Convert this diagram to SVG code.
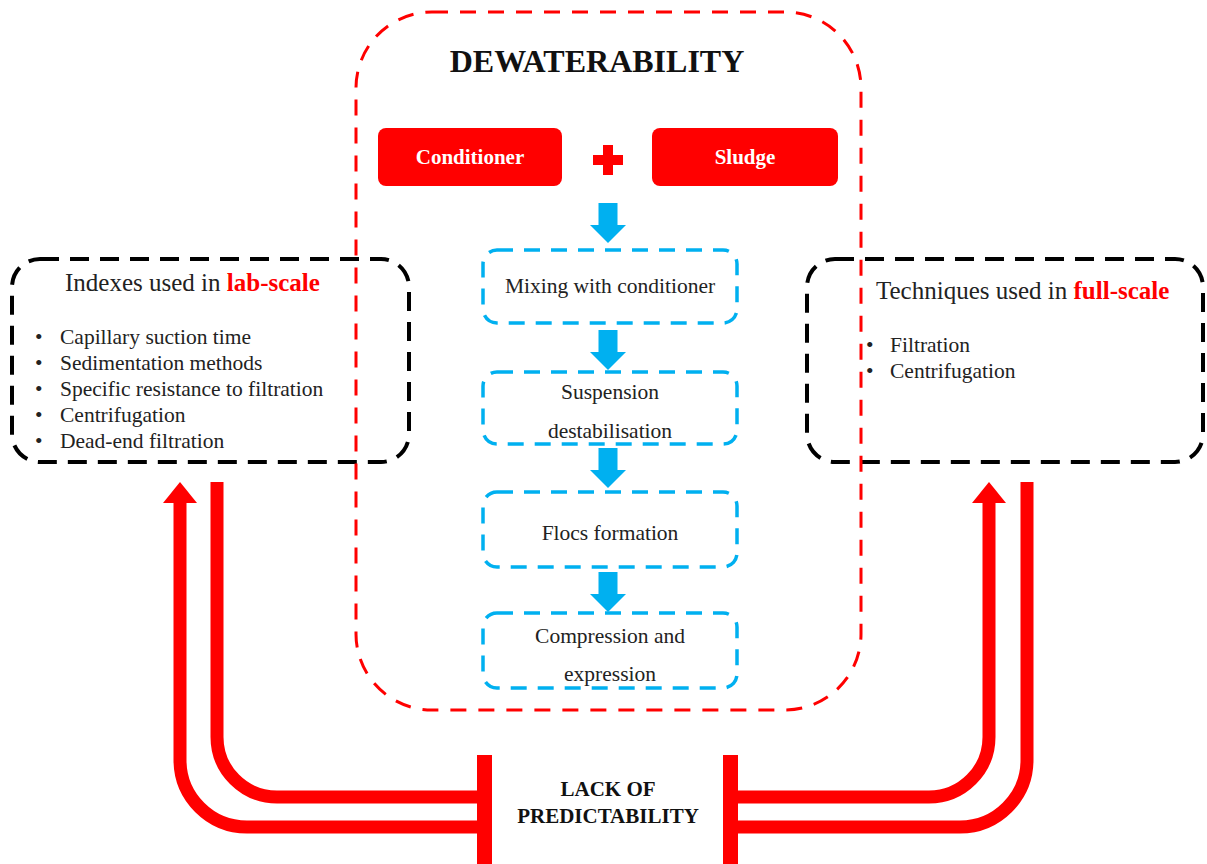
<svg xmlns="http://www.w3.org/2000/svg" width="1207" height="864" viewBox="0 0 1207 864">
<style>
.serif{font-family:"Liberation Serif","Times New Roman",serif;}
.title{font-size:32px;font-weight:bold;fill:#111;text-anchor:middle;}
.redbox{fill:#FF0000;}
.redlbl{font-size:21px;font-weight:bold;fill:#fff;text-anchor:middle;}
.step{fill:none;stroke:#00B0F0;stroke-width:3.5;stroke-dasharray:16 11;}
.steplbl{font-size:21.5px;fill:#222;text-anchor:middle;}
.blk{fill:none;stroke:#000;stroke-width:4;stroke-dasharray:19 11;}
.head{font-size:25px;fill:#222;}
.hl{fill:#FF0000;font-weight:bold;}
.item{font-size:21.5px;fill:#222;}
.container{fill:none;stroke:#FF0000;stroke-width:3;stroke-dasharray:16 12;}
.flow{fill:#00B0F0;}
.pipe{fill:none;stroke:#FF0000;stroke-width:13;}
.bar{fill:#FF0000;}
.lack{font-size:21px;font-weight:bold;fill:#111;text-anchor:middle;}
</style>
<defs>
<path id="downArrow" d="M -9.5 0 H 9.5 V 22 H 18 L 0 40 L -18 22 H -9.5 Z"/>
<marker id="redHead" markerUnits="userSpaceOnUse" viewBox="0 0 21 34" refX="0" refY="17" markerWidth="21" markerHeight="34" orient="auto">
<path d="M 0 0 L 21 17 L 0 34 Z" fill="#FF0000"/>
</marker>
</defs>
<rect width="1207" height="864" fill="#fff"/>

<g id="lab-scale">
<rect class="blk" x="12" y="259" width="397" height="203" rx="28"/>
<text class="serif head" x="65" y="291">Indexes used in <tspan class="hl">lab-scale</tspan></text>
<g class="serif item">
<text x="35" y="344">•</text><text x="60" y="344">Capillary  suction time</text>
<text x="35" y="370">•</text><text x="60" y="370">Sedimentation methods</text>
<text x="35" y="396">•</text><text x="60" y="396">Specific resistance to filtration</text>
<text x="35" y="422">•</text><text x="60" y="422">Centrifugation</text>
<text x="35" y="448">•</text><text x="60" y="448">Dead-end filtration</text>
</g>
</g>

<g id="full-scale">
<rect class="blk" x="807" y="259" width="396" height="203" rx="28"/>
<text class="serif head" x="876" y="299">Techniques used in <tspan class="hl">full-scale</tspan></text>
<g class="serif item">
<text x="866" y="352">•</text><text x="890" y="352">Filtration</text>
<text x="866" y="378">•</text><text x="890" y="378">Centrifugation</text>
</g>
</g>

<g id="dewaterability">
<rect class="container" x="356" y="12" width="505" height="698" rx="76"/>
<text class="serif title" x="597" y="72">DEWATERABILITY</text>
</g>

<g id="conditioner">
<rect class="redbox" x="378" y="128" width="184" height="58" rx="8"/>
<text class="serif redlbl" x="470" y="164">Conditioner</text>
</g>
<g id="plus">
<rect class="redbox" x="593" y="155" width="30" height="10"/>
<rect class="redbox" x="603" y="145" width="10" height="30"/>
</g>
<g id="sludge">
<rect class="redbox" x="652" y="128" width="186" height="58" rx="8"/>
<text class="serif redlbl" x="745" y="164">Sludge</text>
</g>

<g id="step-mixing">
<rect class="step" x="483" y="250" width="254" height="73" rx="14"/>
<text class="serif steplbl" x="610" y="293">Mixing with conditioner</text>
</g>
<g id="step-destabilisation">
<rect class="step" x="483" y="372" width="254" height="72" rx="14"/>
<text class="serif steplbl" x="610" y="399">Suspension</text>
<text class="serif steplbl" x="610" y="438">destabilisation</text>
</g>
<g id="step-flocs">
<rect class="step" x="483" y="492" width="254" height="75" rx="14"/>
<text class="serif steplbl" x="610" y="540">Flocs formation</text>
</g>
<g id="step-compression">
<rect class="step" x="483" y="613" width="254" height="75" rx="14"/>
<text class="serif steplbl" x="610" y="643">Compression and</text>
<text class="serif steplbl" x="610" y="681">expression</text>
</g>

<g id="lack-of-predictability">
<rect class="bar" x="477" y="755" width="15" height="109"/>
<rect class="bar" x="723" y="755" width="15" height="109"/>
<text class="serif lack" x="608" y="796">LACK OF</text>
<text class="serif lack" x="608" y="823">PREDICTABILITY</text>
</g>

<g id="connectors">
<use href="#downArrow" class="flow" x="608" y="203"/>
<use href="#downArrow" class="flow" x="608" y="330"/>
<use href="#downArrow" class="flow" x="608" y="448"/>
<use href="#downArrow" class="flow" x="608" y="572"/>
<path class="pipe" d="M 480 827 H 247 A 67 67 0 0 1 180 760 V 503" marker-end="url(#redHead)"/>
<path class="pipe" d="M 480 797 H 277 A 60 60 0 0 1 217 737 V 482"/>
<path class="pipe" d="M 735 797 H 929 A 60 60 0 0 0 989 737 V 503" marker-end="url(#redHead)"/>
<path class="pipe" d="M 735 827 H 960 A 67 67 0 0 0 1027 760 V 482"/>
</g>
</svg>
